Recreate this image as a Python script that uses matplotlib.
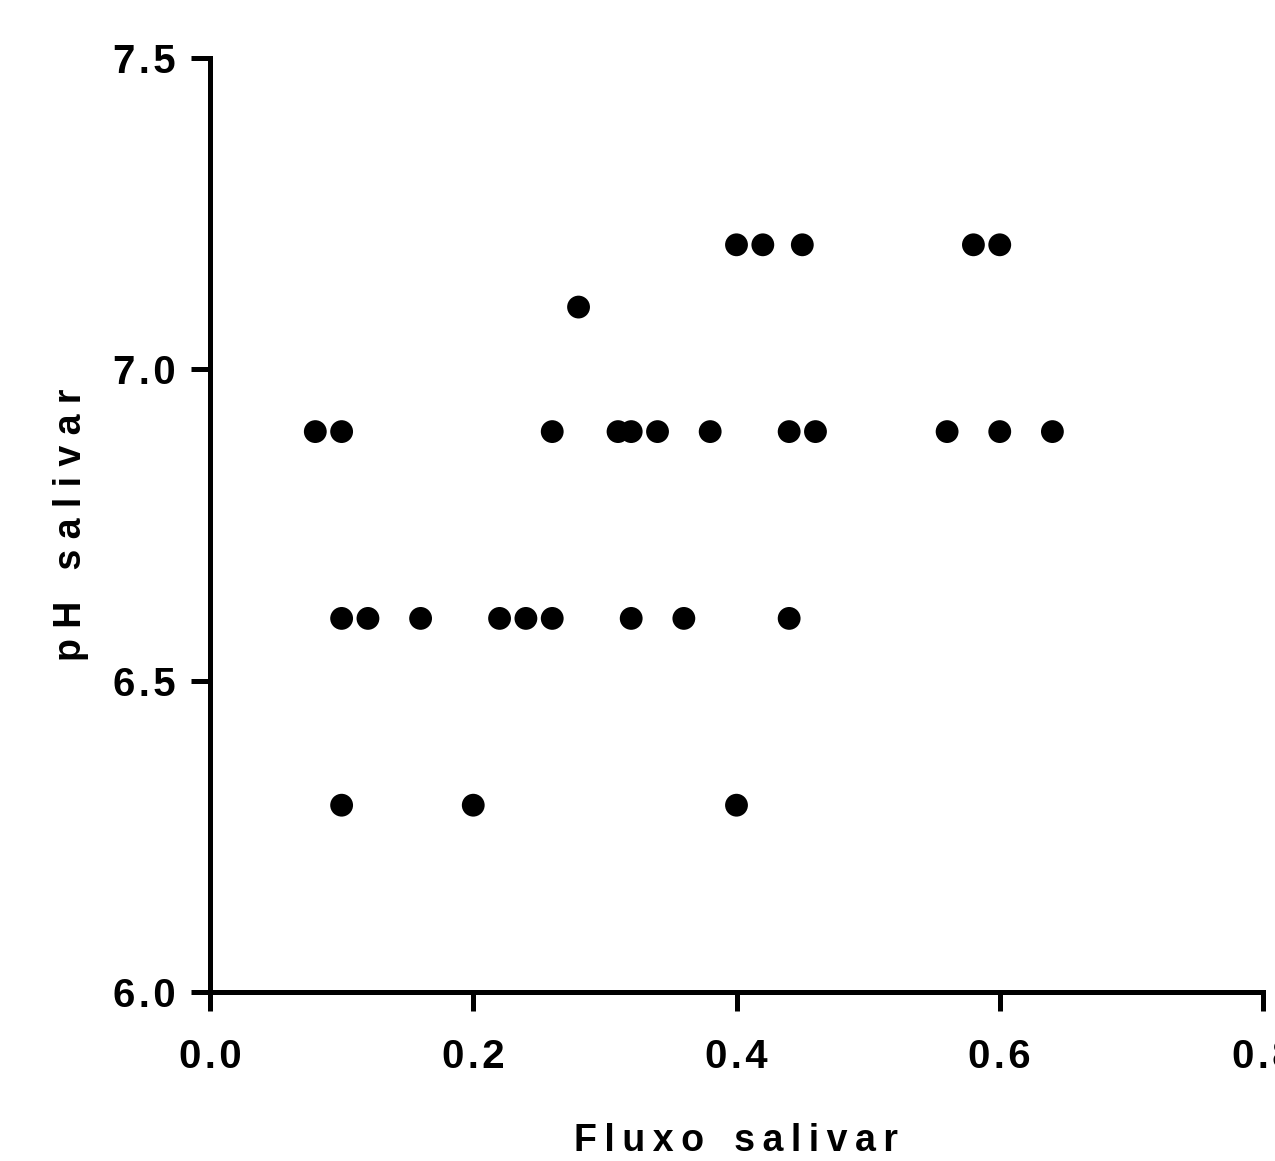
import matplotlib
matplotlib.use('Agg')
import matplotlib.pyplot as plt
import numpy as np

OUTPUT_FILE = 'out.png'

# data
flow_72 = [0.40, 0.42, 0.45, 0.58, 0.60]
flow_71 = [0.28]
flow_69 = [0.08, 0.10, 0.26, 0.31, 0.32, 0.34, 0.38, 0.44, 0.46, 0.56, 0.60, 0.64]
flow_66 = [0.10, 0.12, 0.16, 0.22, 0.24, 0.26, 0.32, 0.36, 0.44]
flow_63 = [0.10, 0.20, 0.40]
ph_levels = [7.2, 7.1, 6.9, 6.6, 6.3]

xticks = [0.0, 0.2, 0.4, 0.6, 0.8]
yticks = [6.0, 6.5, 7.0, 7.5]

def spaced(s, gap=' ', wordgap='   '):
    #spread letters like the original
    return wordgap.join(gap.join(w) for w in s.split(' '))

plt.rcParams['font.family'] = ['Liberation Sans', 'DejaVu Sans']
plt.rcParams['font.weight'] = 'bold'

fig = plt.figure(figsize=(12.75, 11.61), dpi=100)
ax = fig.add_axes([210/1275, 1-992/1161, (1263-210)/1275, (992-58)/1161])

groups = [flow_72, flow_71, flow_69, flow_66, flow_63]
for xs, y in zip(groups, ph_levels):
    ax.scatter(xs, [y]*len(xs), s=270, c='black', edgecolors='none', zorder=3, clip_on=False)

ax.set_xlim(0, 0.8)
ax.set_ylim(6.0, 7.5)
ax.set_xticks(xticks)
ax.set_yticks(yticks)
ax.set_xticklabels([spaced('%.1f' % v, gap='\u200a') for v in xticks])
ax.set_yticklabels([spaced('%.1f' % v, gap='\u200a') for v in yticks])

for s in ['top', 'right']:
    ax.spines[s].set_visible(False)
for s in ['left', 'bottom']:
    ax.spines[s].set_linewidth(3.6)
    ax.spines[s].set_capstyle('projecting')

ax.tick_params(axis='both', width=3.6, length=14, labelsize=29, direction='out')
ax.tick_params(axis='x', pad=19)
ax.tick_params(axis='y', pad=11)

ax.set_xlabel(spaced('Fluxo salivar', gap='\u2009', wordgap='\u2009' * 4),
              fontsize=27, fontweight='bold', labelpad=34)
ax.set_ylabel(spaced('pH salivar', gap=' ', wordgap='   '),
              fontsize=27, fontweight='bold', labelpad=17)

fig.savefig(OUTPUT_FILE, dpi=100)
